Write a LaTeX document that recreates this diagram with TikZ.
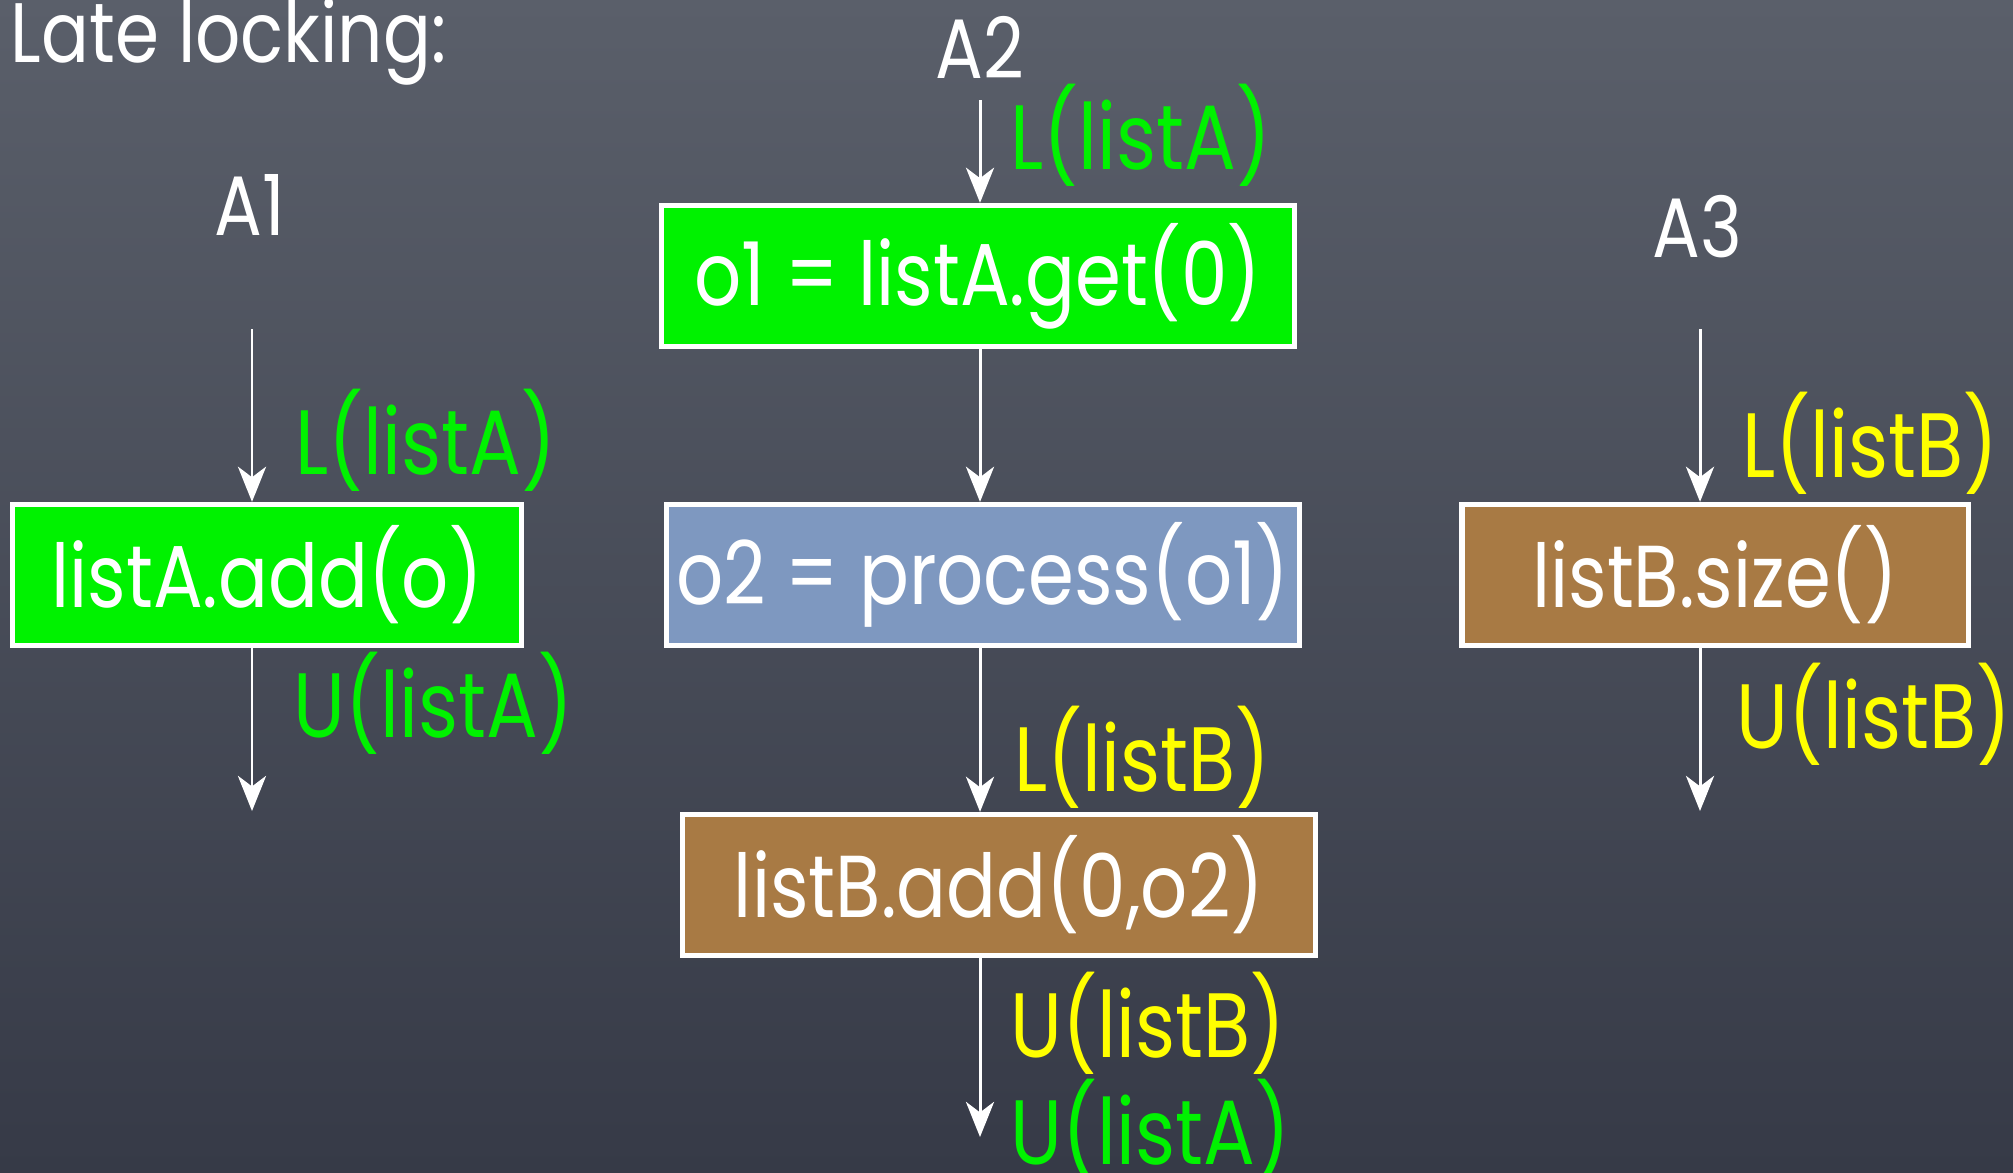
\documentclass[tikz,border=0pt]{standalone}
\usepackage{fontspec}
\setmainfont{Poppins}[FakeStretch=0.84]
\usetikzlibrary{positioning,arrows.meta}

\definecolor{slateTop}{RGB}{90,95,106}
\definecolor{slateBot}{RGB}{54,58,71}
\definecolor{gr}{RGB}{0,242,0}
\definecolor{bl}{RGB}{126,152,192}
\definecolor{br}{RGB}{168,122,68}
\definecolor{ye}{RGB}{255,255,0}

\begin{document}
\begin{tikzpicture}[x=0.01cm, y=-0.01cm,
  op/.style={rectangle, draw=white, line width=1.5pt, fill=#1, text=white,
             font=\fontsize{25}{30}\selectfont, minimum height=1.41cm, inner sep=0pt},
  ar/.style={white, line width=0.85pt, -{Stealth[length=10pt,width=8pt,inset=3pt]}},
  lb/.style={text=#1, font=\fontsize{26}{31}\selectfont, anchor=west, inner sep=0pt},
  hd/.style={text=white, font=\fontsize{24}{29}\selectfont, inner sep=0pt}
]
% chalkboard
\fill[top color=slateTop, bottom color=slateBot] (0,0) rectangle (2013,1172);
\useasboundingbox (0,0) rectangle (2013,1172);

\node[hd, anchor=base east] (title) at (447,62) {Late locking:};
\node[hd] (A1) at (250,205) {A1};
\node[hd] (A2) at (980,47)  {A2};
\node[hd] (A3) at (1697,227) {A3};

% statements
\node[op=gr, minimum width=5.08cm] (add)  at (267,575) {listA.add(o)};
\node[op=gr, minimum width=6.33cm] (get)  at (978,276) {o1 = listA.get(0)};
\node[op=bl, minimum width=6.33cm] (proc) at (983,575) {o2 = process(o1)};
\node[op=br, minimum width=6.33cm] (put)  at (999,885) {listB.add(0,o2)};
\node[op=br, minimum width=5.06cm] (size) at (1715,575) {listB.size()};

% thread lines
\coordinate (in1)  at (252,329);
\coordinate (out1) at (252,811);
\coordinate (in2)  at (980,100);
\coordinate (out2) at (980,1137);
\coordinate (in3)  at (1700,329);
\coordinate (out3) at (1700,811);

\draw[ar] (in1) -- (in1 |- add.north);
\draw[ar] (in1 |- add.south) -- (out1);

\draw[ar] (in2) -- (in2 |- get.north);
\draw[ar] (in2 |- get.south) -- (in2 |- proc.north);
\draw[ar] (in2 |- proc.south) -- (in2 |- put.north);
\draw[ar] (in2 |- put.south) -- (out2);

\draw[ar] (in3) -- (in3 |- size.north);
\draw[ar] (in3 |- size.south) -- (out3);

% lock / unlock marks
\node[lb=gr] (l1) at (295,440)  {L(listA)};
\node[lb=gr] (u1) at (293,703)  {U(listA)};
\node[lb=gr] (l2) at (1010,135) {L(listA)};
\node[lb=ye] (l3) at (1014,757) {L(listB)};
\node[lb=ye] (u3) at (1010,1023) {U(listB)};
\node[lb=gr] (u2) at (1010,1130) {U(listA)};
\node[lb=ye] (l4) at (1742,443) {L(listB)};
\node[lb=ye] (u4) at (1736,714) {U(listB)};
\end{tikzpicture}
\end{document}
